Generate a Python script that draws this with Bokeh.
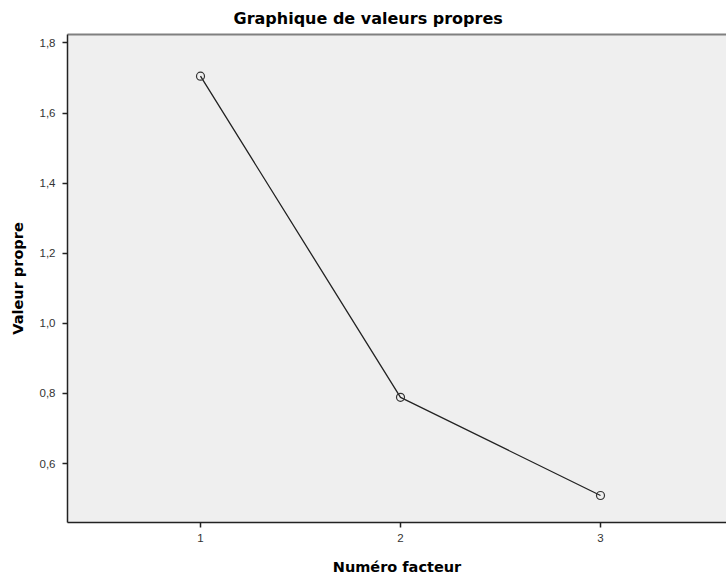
from bokeh.plotting import figure
from bokeh.models import FixedTicker, CustomJSTickFormatter, LinearAxis, Range1d
from bokeh.embed import file_html
from bokeh.resources import INLINE

factors = [1, 2, 3]
eigenvalues = [1.705, 0.789, 0.509]
x_ticks = [1, 2, 3]
y_ticks = [0.6, 0.8, 1.0, 1.2, 1.4, 1.6, 1.8]

LABEL_FONT = "DejaVu Sans"
TICK_FONT = "Liberation Sans"

p = figure(width=726, height=577, output_backend="svg", toolbar_location=None,
           x_range=Range1d(0.335, 3.63), y_range=Range1d(0.432, 1.824),
           min_border_left=67, min_border_right=0, min_border_top=34, min_border_bottom=55)

p.title.text = "Graphique de valeurs propres"
p.title.align = "left"
p.title.offset = 166
p.title.text_font = LABEL_FONT
p.title.text_font_size = "16px"
p.title.text_font_style = "bold"
p.title.text_color = "#000000"
p.title.standoff = 13

p.background_fill_color = "#EFEFEF"
p.border_fill_color = "white"
p.outline_line_color = None
p.grid.visible = False

for ax in (p.xaxis[0], p.yaxis[0]):
    ax.axis_line_color = "#222222"
    ax.axis_line_width = 1.5
    ax.major_tick_line_color = "#222222"
    ax.major_tick_line_width = 1.5
    ax.major_tick_out = 5
    ax.major_tick_in = 0
    ax.minor_tick_line_color = None
    ax.major_label_text_font = TICK_FONT
    ax.major_label_text_font_size = "11.5px"
    ax.major_label_text_color = "#333333"
    ax.axis_label_text_font = LABEL_FONT
    ax.axis_label_text_font_style = "bold"
    ax.axis_label_text_color = "#000000"
    ax.axis_label_text_font_size = "14.5px"

p.xaxis[0].ticker = FixedTicker(ticks=x_ticks)
p.yaxis[0].ticker = FixedTicker(ticks=y_ticks)
p.yaxis[0].formatter = CustomJSTickFormatter(code="return tick.toFixed(1).replace('.', ',');")
p.xaxis[0].major_label_standoff = 6
p.yaxis[0].major_label_standoff = 7
p.xaxis[0].axis_label = "Numéro facteur"
p.yaxis[0].axis_label = "Valeur propre"
p.xaxis[0].axis_label_standoff = 14
p.yaxis[0].axis_label_standoff = 11

top = LinearAxis(ticker=FixedTicker(ticks=[]), axis_line_color="#808080", axis_line_width=2,
                 major_tick_line_color=None, minor_tick_line_color=None,
                 major_label_text_alpha=0)
p.add_layout(top, "above")

p.line(factors, eigenvalues, line_color="#222222", line_width=1.3)
p.scatter(factors, eigenvalues, marker="circle", size=8, fill_color=None,
          line_color="#333333", line_width=1.2)

open("out.html", "w").write(file_html(p, INLINE))
